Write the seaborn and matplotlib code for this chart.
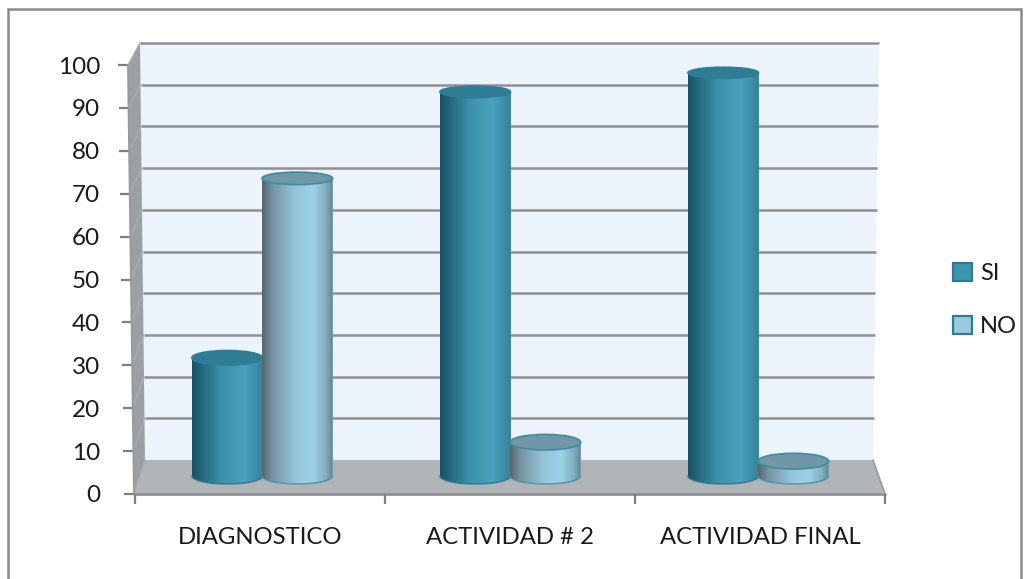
import numpy as np
import pandas as pd
import matplotlib
matplotlib.use("Agg")
import matplotlib.pyplot as plt
from matplotlib.colors import LinearSegmentedColormap
from matplotlib.patches import Polygon, Ellipse, Rectangle
import seaborn as sns

# Chart values
categories = ["DIAGNOSTICO", "ACTIVIDAD # 2", "ACTIVIDAD FINAL"]
si_values = [28, 91, 95.5]
no_values = [70.5, 8, 3.5]
series_names = ["SI", "NO"]
y_ticks = list(range(0, 101, 10))

sns.set_theme(style="white")
plt.rcParams["font.family"] = ["Lato", "DejaVu Sans"]

W, H = 1029, 579
fig = plt.figure(figsize=(W / 100, H / 100), dpi=100, facecolor="white")

# Backdrop layer in pixel units: frame, walls and floor of the 3D box
bg = fig.add_axes([0, 0, 1, 1], zorder=0)
bg.set_xlim(0, W)
bg.set_ylim(H, 0)
bg.axis("off")
GRID = "#8e9092"
bg.add_patch(Rectangle((8, 9), 1013, 580, fc="white", ec="#8a8a8a", lw=1.8))
bg.add_patch(Polygon([(140, 43), (879, 43), (873, 460), (145, 460)], fc="#ecf3fb", ec="none"))
bg.add_patch(Polygon([(134, 494), (128, 65), (140, 43), (145, 460)], fc="#9aa0a3", ec="none"))
bg.add_patch(Polygon([(134, 494), (885, 494), (873, 460), (145, 460)], fc="#b2b5b8", ec="none"))

for v in y_ticks:
    front_y = 494 - 4.29 * v
    front_x = 134 - 0.06 * v
    back_y = 460 - 4.17 * v
    back_x = 145 - 0.05 * v
    right_x = 873 + 0.06 * v
    if v > 0:
        bg.plot([back_x, right_x], [back_y, back_y], color=GRID, lw=1.8, solid_capstyle="butt")
    bg.plot([front_x, back_x], [front_y, back_y], color="#a9adb0", lw=1.0)
    bg.plot([front_x - 10, front_x], [front_y, front_y], color="#7f7f7f", lw=1.6, solid_capstyle="butt")
bg.plot([128, 134], [65, 494], color="#9a9a9a", lw=1.4)
bg.plot([134, 885], [494, 494], color="#8e9092", lw=2.0)
bg.plot([873, 885], [460, 494], color="#9a9a9a", lw=1.2)

# Data layer: its y range spans the front plane of the box
ax = fig.add_axes([135 / W, 1 - 494 / H, 750 / W, 429 / H], zorder=1)
ax.patch.set_alpha(0)

df = pd.DataFrame({
    "categoria": categories * 2,
    "serie": [series_names[0]] * 3 + [series_names[1]] * 3,
    "valor": si_values + no_values,
})
palette = {"SI": "#3f94ad", "NO": "#9cc9dc"}
sns.barplot(data=df, x="categoria", y="valor", hue="serie", hue_order=series_names,
            palette=palette, width=0.57, gap=0, saturation=1, dodge=True,
            linewidth=0, ax=ax)

si_cmap = LinearSegmentedColormap.from_list("si", [
    (0, "#1a5062"), (0.12, "#22657a"), (0.42, "#3c91aa"), (0.75, "#4aa2be"), (1, "#35829b")])
no_cmap = LinearSegmentedColormap.from_list("no", [
    (0, "#56666e"), (0.14, "#76929f"), (0.45, "#94c4d8"), (0.72, "#9dd2e6"), (0.9, "#83aebf"), (1, "#5f8796")])

# The bars stand at mid depth of the box, so they rise from the floor and scale slightly
BASE = 4.2
V_SCALE = 0.984
X_SCALE = 0.992
gradient = np.linspace(0, 1, 256).reshape(1, -1)


def cap_half_height(v):
    return (8 - 2.5 * v / 100) / 4.29


n_cat = len(categories)
bars = [p for p in ax.patches if p.get_height() > 0][:2 * n_cat]
for i, bar in enumerate(bars):
    is_si = i < n_cat
    value = bar.get_height()
    cat_idx = i % n_cat
    left = cat_idx + (bar.get_x() - cat_idx) * X_SCALE
    left = 1 + (left - 1) * X_SCALE
    width = bar.get_width() * X_SCALE
    top = BASE + value * V_SCALE
    bar.set_x(left)
    bar.set_width(width)
    bar.set_y(BASE)
    bar.set_height(top - BASE)
    bar.set_zorder(2 + i)

    cx = left + width / 2
    rb = cap_half_height(0)
    t = np.linspace(np.pi, 2 * np.pi, 60)
    arc = np.column_stack([cx + width / 2 * np.cos(t), BASE + rb * np.sin(t)])
    outline = np.vstack([[left, top], arc, [left + width, top]])
    clip = Polygon(outline, transform=ax.transData, fc="none", ec="none")
    ax.add_patch(clip)
    cmap = si_cmap if is_si else no_cmap
    img = ax.imshow(gradient, cmap=cmap, aspect="auto", zorder=2.1 + i,
                    extent=(left, left + width, BASE - rb, top), interpolation="bilinear")
    img.set_clip_path(clip)
    edge = "#2b7b94" if is_si else "#4c93aa"
    ax.plot(arc[:, 0], arc[:, 1], color=edge, lw=1.0, zorder=2.2 + i)
    ax.add_patch(Ellipse((cx, top), width, 2 * cap_half_height(value),
                         fc="#2f7d95" if is_si else "#6f97a6",
                         ec="#2f7d95" if is_si else "#3f8ba4", lw=1.2, zorder=2.3 + i))

ax.set_xlim(-0.5, 2.5)
ax.set_ylim(0, 100)
ax.set_xlabel("")
ax.set_ylabel("")
sns.despine(ax=ax, left=True, bottom=True, right=True, top=True)

ax.set_yticks(y_ticks)
ax.set_yticklabels([str(v) for v in y_ticks], fontsize=17.5, color="#1a1a1a")
ax.tick_params(axis="y", length=0, pad=25)
ax.set_xticks(range(n_cat))
ax.set_xticklabels(categories, fontsize=17.2, color="#1a1a1a")
ax.tick_params(axis="x", which="major", length=0, pad=24)
ax.set_xticks([-0.5, 0.5, 1.5, 2.5], minor=True)
ax.tick_params(axis="x", which="minor", length=7, width=1.6, color="#7f7f7f", direction="out")
ax.tick_params(axis="x", which="minor", bottom=True)

handles, labels = ax.get_legend_handles_labels()
for h in handles:
    h.set_edgecolor("#2b7b94")
    h.set_linewidth(1.6)
leg = fig.legend(handles, labels, loc="upper left", bbox_to_anchor=(953 / W, 1 - 263 / H),
                 frameon=False, fontsize=17, borderaxespad=0, borderpad=0,
                 handlelength=0.8, handleheight=0.8,
                 handletextpad=0.35, labelspacing=1.35, labelcolor="#1a1a1a")
if ax.get_legend() is not None:
    ax.get_legend().remove()

fig.savefig("out.png", dpi=100)
